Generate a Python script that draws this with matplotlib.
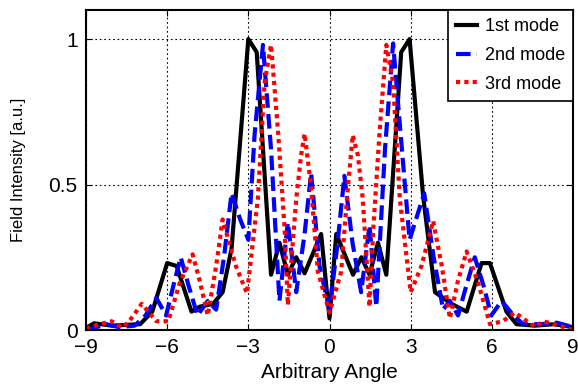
import matplotlib
matplotlib.use("Agg")
import matplotlib.pyplot as plt

plt.rcParams["font.family"] = ["Liberation Sans Narrow", "Liberation Sans", "DejaVu Sans"]

# 1st mode (black solid)
x1 = [-9.0, -8.7, -8.05, -7.0, -6.55, -6.0, -5.65, -5.1, -4.8, -4.3, -3.95, -3.62,
      -3.0, -2.69, -2.16, -1.85, -1.54, -1.23, -0.92, -0.31, 0.0, 0.25, 0.87, 1.18,
      1.48, 1.79, 2.1, 2.65, 2.96, 3.46, 3.9, 4.51, 5.07, 5.62, 5.93, 6.54, 6.91,
      7.6, 8.3, 9.0]
y1 = [0.007, 0.023, 0.015, 0.02, 0.063, 0.23, 0.22, 0.063, 0.08, 0.09, 0.13, 0.28,
      1.0, 0.955, 0.19, 0.30, 0.19, 0.25, 0.195, 0.33, 0.04, 0.33, 0.19, 0.25,
      0.19, 0.30, 0.19, 0.955, 1.0, 0.46, 0.13, 0.09, 0.063, 0.23, 0.23, 0.063, 0.02,
      0.015, 0.02, 0.01]

# 2nd mode (blue dashed)
x2 = [-9.0, -8.6, -8.24, -7.8, -7.2, -6.8, -6.4, -6.04, -5.75, -5.5, -5.2, -4.88,
      -4.5, -4.19, -3.9, -3.62, -3.3, -3.0, -2.77, -2.46, -2.16, -1.85, -1.54,
      -1.23, -0.92, -0.68, -0.37, 0.0, 0.3, 0.55, 0.85, 1.17, 1.48, 1.73, 2.05,
      2.35, 2.65, 2.96, 3.5, 3.85, 4.2, 4.45, 4.75, 5.05, 5.37, 5.7, 5.98, 6.36,
      6.8, 7.16, 7.78, 8.4, 9.0]
y2 = [0.0, 0.01, 0.02, 0.01, 0.015, 0.05, 0.11, 0.05, 0.16, 0.25, 0.15, 0.05,
      0.1, 0.07, 0.25, 0.47, 0.38, 0.31, 0.67, 0.98, 0.62, 0.10, 0.37,
      0.13, 0.33, 0.54, 0.22, 0.07, 0.3, 0.53, 0.3, 0.13, 0.36, 0.08, 0.62,
      0.985, 0.65, 0.31, 0.47, 0.25, 0.07, 0.1, 0.05, 0.15, 0.25, 0.15, 0.05, 0.1,
      0.05, 0.02, 0.02, 0.025, 0.01]

# 3rd mode (red dotted)
x3 = [-9.0, -8.5, -8.05, -7.65, -7.4, -6.94, -6.4, -5.96, -5.54, -5.06, -4.8,
      -4.5, -4.19, -3.95, -3.46, -3.05, -2.65, -2.4, -2.16, -1.9, -1.66, -1.54,
      -1.23, -1.05, -0.92, -0.68, -0.43, 0.0, 0.43, 0.68, 0.86, 1.05, 1.23, 1.48,
      1.62, 1.85, 2.1, 2.35, 2.6, 3.0, 3.4, 3.83, 4.15, 4.45, 4.75, 5.07, 5.5,
      5.93, 6.4, 6.85, 7.3, 7.6, 7.9, 8.3, 8.66, 9.0]
y3 = [0.005, 0.02, 0.03, 0.008, 0.03, 0.09, 0.03, 0.03, 0.16, 0.26, 0.17,
      0.05, 0.22, 0.38, 0.22, 0.126, 0.45, 0.85, 0.98, 0.68, 0.35, 0.086,
      0.45, 0.6, 0.675, 0.49, 0.2, 0.06, 0.2, 0.49, 0.67, 0.6, 0.45, 0.08,
      0.35, 0.68, 0.98, 0.85, 0.45, 0.13, 0.22, 0.375, 0.22, 0.04, 0.17, 0.27, 0.16,
      0.02, 0.03, 0.06, 0.03, 0.01, 0.03, 0.02, 0.01, 0.0]

fig = plt.figure(figsize=(5.78, 3.91), dpi=100)
ax = fig.add_axes([86 / 578, 61 / 391, 487 / 578, 320 / 391])

ax.plot(x1, y1, color="black", linewidth=3, linestyle="-", label="1st mode")
ax.plot(x2, y2, color="blue", linewidth=3, linestyle=(0, (3.5, 1.5)), label="2nd mode")
ax.plot(x3, y3, color="red", linewidth=3, linestyle=(0, (1, 1)), label="3rd mode")

ax.set_xlim(-9, 9)
ax.set_ylim(0, 1.1)
ax.set_xticks([-9, -6, -3, 0, 3, 6, 9])
ax.set_xticklabels(["\u22129", "\u22126", "\u22123", "0", "3", "6", "9"])
ax.set_yticks([0, 0.5, 1])
ax.set_yticklabels(["0", "0.5", "1"])
ax.tick_params(direction="in", length=4, labelsize=15, top=True, right=True, pad=6)
ax.grid(True, color="black", linestyle=(0, (1.5, 2.5)), linewidth=0.8)
for s in ax.spines.values():
    s.set_linewidth(1.5)

ax.set_xlabel("Arbitrary Angle", fontsize=15, labelpad=4)
ax.set_ylabel("Field Intensity [a.u.]", fontsize=12, labelpad=16)

leg = ax.legend(loc="upper right", fontsize=13, fancybox=False, framealpha=1,
                edgecolor="black", handlelength=1.2, handletextpad=0.4,
                borderaxespad=0, borderpad=0.45, labelspacing=0.65)
leg.get_frame().set_linewidth(1.2)

fig.savefig("out.png", dpi=100)
